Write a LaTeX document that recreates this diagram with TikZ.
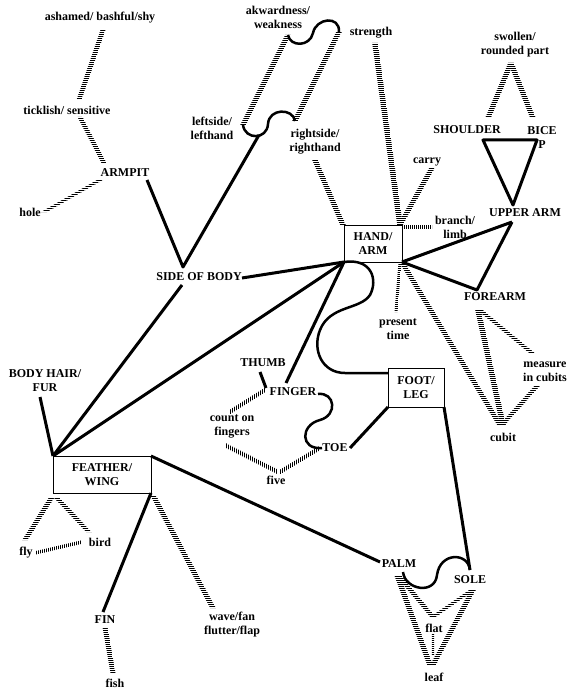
\documentclass[tikz,border=0pt]{standalone}
\usepackage{fontspec}
\setmainfont{Liberation Serif}
\usetikzlibrary{calc,patterns.meta}
\tikzset{
  lab/.style={font=\bfseries\fontsize{12}{14}\selectfont, align=center, inner sep=1pt},
  boxnode/.style={lab, draw, line width=0.8pt, inner sep=0pt, outer sep=0pt},
  sline/.style={line width=3pt},
  cline/.style={line width=2.5pt},
  hpat/.style={pattern={Lines[angle=0,distance=2pt,line width=1pt]}},
  vpat/.style={pattern={Lines[angle=90,distance=2pt,line width=1pt]}},
  hband/.default=2.8,
  hband/.style={to path={($(\tikztostart)+(-#1,0)$) -- ($(\tikztostart)+(#1,0)$)
      -- ($(\tikztotarget)+(#1,0)$) -- ($(\tikztotarget)+(-#1,0)$) -- cycle}},
  vband/.default=2.4,
  vband/.style={to path={($(\tikztostart)+(0,-#1)$) -- ($(\tikztostart)+(0,#1)$)
      -- ($(\tikztotarget)+(0,#1)$) -- ($(\tikztotarget)+(0,-#1)$) -- cycle}},
}
\begin{document}
\begin{tikzpicture}[x=1pt,y=-1pt]
\useasboundingbox (0,0) rectangle (574,695);
% nodes
\node[lab] (ashamed) at (100,18) {ashamed/ bashful/shy};
\node[lab] (tick) at (67,110) {ticklish/ sensitive};
\node[lab] (armpit) at (125,173) {ARMPIT};
\node[lab] (hole) at (30,212) {hole};
\node[lab] (side) at (199,277) {SIDE OF BODY};
\node[lab] (akw) at (278,17) {akwardness/\\weakness};
\node[lab] (left) at (212,128) {leftside/\\lefthand};
\node[lab] (strength) at (371,33) {strength};
\node[lab] (right) at (315,142) {rightside/\\righthand};
\node[boxnode, minimum width=58pt, minimum height=37pt] (hand) at (373,243.5) {HAND/\\ARM};
\node[lab] (carry) at (427,162) {carry};
\node[lab] (branch) at (455,227) {branch/\\limb};
\node[lab] (present) at (398,329) {present\\time};
\node[lab] (swollen) at (515,45) {swollen/\\rounded part};
\node[lab] (shoulder) at (467,130) {SHOULDER};
\node[lab] (bicep) at (542,138) {BICE\\P};
\node[lab] (upper) at (525,213) {UPPER ARM};
\node[lab] (fore) at (495,297) {FOREARM};
\node[lab] (measure) at (545,372) {measure\\in cubits};
\node[lab] (cubit) at (503,437) {cubit};
\node[boxnode, minimum width=56pt, minimum height=39pt] (foot) at (416,387.5) {FOOT/\\LEG};
\node[lab] (thumb) at (263,363) {THUMB};
\node[lab] (finger) at (293,392) {FINGER};
\node[lab] (count) at (232,426) {count on\\fingers};
\node[lab] (toe) at (335,448) {TOE};
\node[lab] (five) at (276,480) {five};
\node[lab] (bodyhair) at (45,381) {BODY HAIR/\\FUR};
\node[boxnode, minimum width=98pt, minimum height=37pt] (feather) at (102,474.5) {FEATHER/\\WING};
\node[lab] (fly) at (26,553) {fly};
\node[lab] (bird) at (100,542) {bird};
\node[lab] (fin) at (105,620) {FIN};
\node[lab] (fish) at (115,683) {fish};
\node[lab] (wave) at (232,625) {wave/fan\\flutter/flap};
\node[lab] (palm) at (399,564) {PALM};
\node[lab] (sole) at (470,580) {SOLE};
\node[lab] (flat) at (434,628) {flat};
\node[lab] (leaf) at (434,677) {leaf};
% loop coordinates
\coordinate (lp1) at (288,35);
\coordinate (lp2) at (243,125);
\coordinate (lp3) at (295,121);
\coordinate (lp4) at (339,32);
\coordinate (junc) at (259,135);
\coordinate (apex) at ($(side)+(-16,-10)$);
% armpit cluster
\path[hpat] ($(ashamed)+(3,12)$) to[hband=2.5] ($(tick)+(12,-10)$);
\path[hpat] ($(tick)+(13,7)$) to[hband=2.5] ($(armpit)+(-21,-10)$);
\path[hpat] ($(armpit)+(-25,7)$) to[hband=3] ($(hole)+(14,0)$);
\draw[sline, line join=round] ($(armpit)+(22,7)$) -- (apex) -- (junc);
% loop
\path[hpat] (lp1) to[hband] (lp2);
\path[hpat] (lp3) to[hband] (lp4);
\draw[cline] (lp2) .. controls (245,140) and (267,140) .. (268,124)
  .. controls (269,108) and (293,108) .. (lp3);
\draw[cline] (lp4) .. controls (340,15) and (316,18) .. (313,33)
  .. controls (310,47) and (290,47) .. (lp1);
% hand top
\path[hpat] ($(strength)+(4,10)$) to[hband] ($(hand.north east)+(-2,0)$);
\path[hpat] ($(carry)+(5,6)$) to[hband] ($(hand.north east)+(-2,0)$);
\path[vpat] ($(hand.north east)+(0,2)$) to[vband=1.5] ($(branch)+(-23,0)$);
\path[hpat] ($(right)+(0,18)$) to[hband] ($(hand.north west)+(-1,0)$);
\path[hpat] ($(hand.south east)+(-2,0)$) to[hband=1.5] ($(present)+(-2,-17)$);
% arm
\draw[sline] (hand.south east) -- ($(upper)+(-13,9)$);
\draw[sline, line join=round] (hand.south east) -- ($(fore)+(-18,-7)$) -- ($(upper)+(-13,9)$);
\path[hpat] ($(swollen)+(-4,18)$) to[hband] ($(shoulder)+(21,-12)$);
\path[hpat] ($(swollen)+(-4,18)$) to[hband] ($(bicep)+(-9,-20)$);
\draw[sline, line join=round] ($(shoulder)+(16,10)$) -- ($(bicep)+(-5,2)$) -- ($(upper)+(-12,-8)$) -- cycle;
\path[hpat] ($(fore)+(-17,13)$) to[hband] ($(cubit)+(0,-12)$);
\path[hpat] ($(fore)+(-15,13)$) to[hband] ($(measure)+(-13,-19)$);
\path[hpat] ($(measure)+(-7,13)$) to[hband] ($(cubit)+(-1,-12)$);
\path[hpat] ($(hand.south east)+(1,2)$) to[hband] ($(cubit)+(-3,-12)$);
% hand to foot curve
\draw[cline] (hand.south west) .. controls (372,258) and (378,280) .. (370,295)
  .. controls (360,310) and (330,305) .. (320,330)
  .. controls (312,350) and (322,373) .. (345,373) -- ($(foot.north west)+(0,5)$);
\draw[sline] (foot.south west) -- ($(toe)+(15,0)$);
\draw[sline] (foot.south east) -- ($(sole)+(0,-10)$);
% fingers
\draw[sline] (hand.south west) -- ($(finger)+(-7,-9)$);
\draw[sline] ($(thumb)+(-3,9)$) -- ($(finger)+(-27,-4)$);
\draw[cline] ($(finger)+(25,2)$) .. controls (335,392) and (338,415) .. (320,420)
  .. controls (300,425) and (300,450) .. ($(toe)+(-13,0)$);
\path[vpat] ($(finger)+(-28,-2)$) to[vband] ($(count)+(-2,-14)$);
\path[vpat] ($(count)+(-7,19)$) to[vband] ($(five)+(2,-8)$);
\path[vpat] ($(toe)+(-15,0)$) to[vband] ($(five)+(4,-8)$);
% feather
\draw[sline] ($(bodyhair)+(-5,16)$) -- (feather.north west);
\draw[sline] ($(side)+(-17,8)$) -- (feather.north west);
\draw[sline] (hand.south west) -- (feather.north west);
\draw[sline] ($(side)+(43,1)$) -- (hand.south west);
\draw[sline] (feather.north east) -- ($(palm)+(-19,-2)$);
\path[hpat] ($(feather.south west)+(-1,4)$) to[hband] ($(fly)+(-1,-13)$);
\path[hpat] ($(feather.south west)+(3,4)$) to[hband] ($(bird)+(-11,-10)$);
\path[vpat] ($(fly)+(9,0)$) to[vband=1.8] ($(bird)+(-18,0)$);
\draw[sline] (feather.south east) -- ($(fin)+(-2,-8)$);
\path[hpat] ($(feather.south east)+(2,2)$) to[hband] ($(wave)+(-19,-17)$);
\path[hpat] ($(fin)+(0,7)$) to[hband=2.5] ($(fish)+(-2,-10)$);
% palm / sole
\draw[cline] ($(palm)+(4,8)$) .. controls (405,590) and (435,595) .. (437,575)
  .. controls (440,552) and (468,552) .. ($(sole)+(0,-10)$);
\path[hpat] ($(palm)+(-1,11)$) to[hband] ($(flat)+(-1,-11)$);
\path[hpat] ($(sole)+(2,10)$) to[hband] ($(flat)+(-1,-11)$);
\path[hpat] ($(palm)+(-2,11)$) to[hband] ($(leaf)+(-4,-12)$);
\path[hpat] ($(sole)+(3,10)$) to[hband] ($(leaf)+(-1,-12)$);
\path[hpat] ($(flat)+(-1,6)$) to[hband=1.2] ($(leaf)+(-1,-23)$);
\end{tikzpicture}
\end{document}
